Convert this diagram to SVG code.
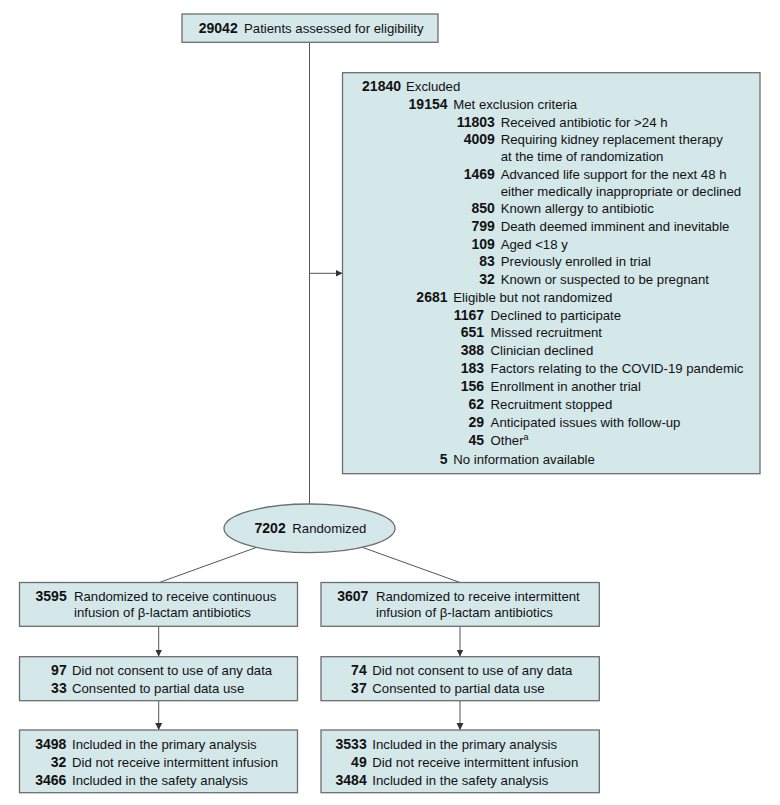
<svg xmlns="http://www.w3.org/2000/svg" width="780" height="805" viewBox="0 0 780 805">
<style>
.box{fill:#d4e7e9;stroke:#6a6e70;stroke-width:1.3}
.ln{stroke:#555;stroke-width:1;fill:none}
text{font-family:"Liberation Sans",Arial,sans-serif;fill:#111}
.n{font-weight:bold;font-size:14px;text-anchor:end}
.t{font-size:13.2px}
.sup{font-size:9px}
</style>
<defs>
<marker id="ah" markerWidth="8" markerHeight="8" refX="7" refY="3.5" orient="auto" markerUnits="userSpaceOnUse">
<path d="M0,0 L7,3.5 L0,7 z" fill="#333"/>
</marker>
</defs>
<rect width="780" height="805" fill="#fff"/>
<g id="connectors">
<line class="ln" x1="309.5" y1="42.3" x2="309.5" y2="504"/>
<line class="ln" x1="309.5" y1="273.3" x2="342.5" y2="273.3" marker-end="url(#ah)"/>
<line class="ln" x1="256.7" y1="547.3" x2="159.3" y2="582.5"/>
<line class="ln" x1="362.3" y1="547.3" x2="460" y2="582.5"/>
<line class="ln" x1="158.7" y1="626" x2="158.7" y2="656.5" marker-end="url(#ah)"/>
<line class="ln" x1="158.7" y1="700.7" x2="158.7" y2="730" marker-end="url(#ah)"/>
<line class="ln" x1="460" y1="626" x2="460" y2="656.5" marker-end="url(#ah)"/>
<line class="ln" x1="460" y1="700.7" x2="460" y2="730" marker-end="url(#ah)"/>
</g>
<g id="assessed">
<rect class="box" x="182" y="14" width="256" height="28.3"/>
<text class="n" x="237.7" y="33.3">29042</text>
<text class="t" x="244" y="33.3">Patients assessed for eligibility</text>
</g>
<g id="excluded">
<rect class="box" x="342.5" y="72.7" width="417.5" height="401"/>
<text class="n" x="401" y="91">21840</text><text class="t" x="406" y="91">Excluded</text>
<text class="n" x="447.5" y="108.8">19154</text><text class="t" x="453.3" y="108.8">Met exclusion criteria</text>
<text class="n" x="494.8" y="126.6">11803</text><text class="t" x="500.7" y="126.6">Received antibiotic for &gt;24 h</text>
<text class="n" x="494.8" y="144.2">4009</text><text class="t" x="500.7" y="144.2">Requiring kidney replacement therapy</text>
<text class="t" x="500.7" y="160.8">at the time of randomization</text>
<text class="n" x="494.8" y="179">1469</text><text class="t" x="500.7" y="179">Advanced life support for the next 48 h</text>
<text class="t" x="500.7" y="195.6">either medically inappropriate or declined</text>
<text class="n" x="494.8" y="213.3">850</text><text class="t" x="500.7" y="213.3">Known allergy to antibiotic</text>
<text class="n" x="494.8" y="231">799</text><text class="t" x="500.7" y="231">Death deemed imminent and inevitable</text>
<text class="n" x="494.8" y="248.7">109</text><text class="t" x="500.7" y="248.7">Aged &lt;18 y</text>
<text class="n" x="494.8" y="266.3">83</text><text class="t" x="500.7" y="266.3">Previously enrolled in trial</text>
<text class="n" x="494.8" y="284">32</text><text class="t" x="500.7" y="284">Known or suspected to be pregnant</text>
<text class="n" x="447.5" y="301.8">2681</text><text class="t" x="453.3" y="301.8">Eligible but not randomized</text>
<text class="n" x="484" y="319.6">1167</text><text class="t" x="490.6" y="319.6">Declined to participate</text>
<text class="n" x="484" y="337.4">651</text><text class="t" x="490.6" y="337.4">Missed recruitment</text>
<text class="n" x="484" y="355.2">388</text><text class="t" x="490.6" y="355.2">Clinician declined</text>
<text class="n" x="484" y="373">183</text><text class="t" x="490.6" y="373">Factors relating to the COVID-19 pandemic</text>
<text class="n" x="484" y="390.8">156</text><text class="t" x="490.6" y="390.8">Enrollment in another trial</text>
<text class="n" x="484" y="408.6">62</text><text class="t" x="490.6" y="408.6">Recruitment stopped</text>
<text class="n" x="484" y="426.8">29</text><text class="t" x="490.6" y="426.8">Anticipated issues with follow-up</text>
<text class="n" x="484" y="445.2">45</text><text class="t" x="490.6" y="445.2">Other<tspan class="sup" dy="-5">a</tspan></text>
<text class="n" x="447.5" y="463.6">5</text><text class="t" x="453.3" y="463.6">No information available</text>
</g>
<g id="randomized">
<ellipse class="box" cx="309.5" cy="528.3" rx="85.5" ry="24.3"/>
<text class="n" x="285.7" y="532.7">7202</text>
<text class="t" x="292.3" y="532.7">Randomized</text>
</g>
<g id="continuous">
<rect class="box" x="19.5" y="582.5" width="278" height="43.8"/>
<text class="n" x="66.7" y="601">3595</text>
<text class="t" x="74" y="601">Randomized to receive continuous</text>
<text class="t" x="74" y="617">infusion of β-lactam antibiotics</text>
</g>
<g id="intermittent">
<rect class="box" x="321" y="582.5" width="278.3" height="43.8"/>
<text class="n" x="368.3" y="601">3607</text>
<text class="t" x="376" y="601">Randomized to receive intermittent</text>
<text class="t" x="376" y="617">infusion of β-lactam antibiotics</text>
</g>
<g id="consent-left">
<rect class="box" x="19.5" y="656.7" width="278" height="44"/>
<text class="n" x="66.7" y="675">97</text><text class="t" x="72" y="675">Did not consent to use of any data</text>
<text class="n" x="66.7" y="693.3">33</text><text class="t" x="72" y="693.3">Consented to partial data use</text>
</g>
<g id="consent-right">
<rect class="box" x="321" y="656.7" width="278.3" height="44"/>
<text class="n" x="366.7" y="675">74</text><text class="t" x="372.3" y="675">Did not consent to use of any data</text>
<text class="n" x="366.7" y="693.3">37</text><text class="t" x="372.3" y="693.3">Consented to partial data use</text>
</g>
<g id="analysis-left">
<rect class="box" x="19.5" y="730" width="278" height="62.7"/>
<text class="n" x="66.3" y="749.3">3498</text><text class="t" x="72" y="749.3">Included in the primary analysis</text>
<text class="n" x="66.3" y="766.7">32</text><text class="t" x="72" y="766.7">Did not receive intermittent infusion</text>
<text class="n" x="66.3" y="785">3466</text><text class="t" x="72" y="785">Included in the safety analysis</text>
</g>
<g id="analysis-right">
<rect class="box" x="321" y="730" width="278.3" height="62.7"/>
<text class="n" x="366.7" y="749.3">3533</text><text class="t" x="372.3" y="749.3">Included in the primary analysis</text>
<text class="n" x="366.7" y="766.7">49</text><text class="t" x="372.3" y="766.7">Did not receive intermittent infusion</text>
<text class="n" x="366.7" y="785">3484</text><text class="t" x="372.3" y="785">Included in the safety analysis</text>
</g>
</svg>
